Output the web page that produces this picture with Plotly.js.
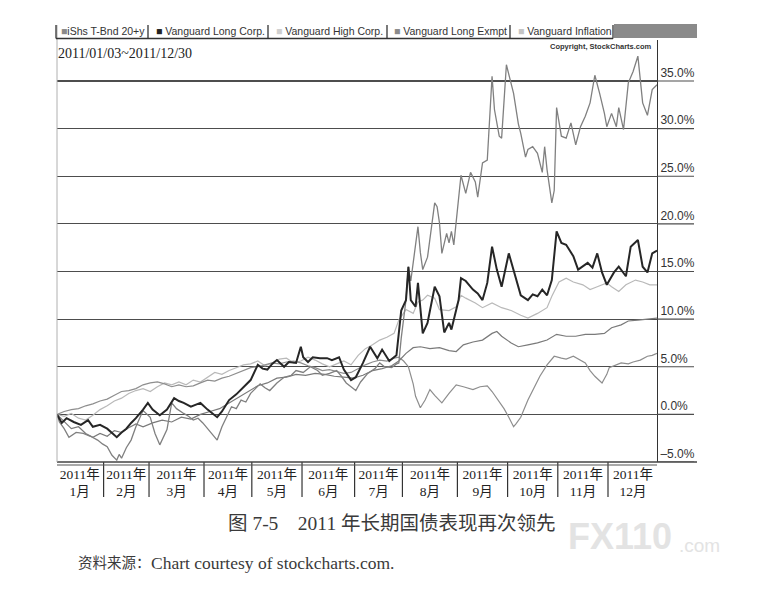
<!DOCTYPE html>
<html><head><meta charset="utf-8">
<script src="https://cdn.plot.ly/plotly-3.0.1.min.js"></script>
<style>html,body{margin:0;padding:0;background:#fff;}#chart{width:762px;height:592px;}</style>
</head><body><div id="chart"></div>
<script>
// ---------- data (trading-day index in 2011, cumulative % change) ----------
const monthLabels = ['1月','2月','3月','4月','5月','6月','7月','8月','9月','10月','11月','12月'];
const monthStarts = [0,20,39,62,82,103,125,145,168,189,210,231];
const totalDays = 252;
const yTicks = [-5,0,5,10,15,20,25,30,35];
const yTickLabels = ['–5.0%','0.0%','5.0%','10.0%','15.0%','20.0%','25.0%','30.0%','35.0%'];
const seriesNames = ['iShs T-Bnd 20+y','Vanguard Long Corp.','Vanguard High Corp.','Vanguard Long Exmpt','Vanguard Inflation'];
const dateRange = '2011/01/03~2011/12/30';

const tltDays = [0,1,3,5,8,11,14,17,19,21,23,25,26,27,29,31,33,36,39,41,43,46,48,50,53,55,57,59,61,63,65,67,69,71,73,75,77,79,81,83,85,87,89,92,95,98,100,103,106,109,111,114,117,119,121,123,125,127,130,133,135,137,140,142,143,144,146,147,148,149,151,152,153,155,156,158,159,160,161,163,164,165,166,167,169,171,173,175,176,178,180,182,183,185,186,188,191,193,194,196,197,199,201,203,204,205,207,208,209,211,213,215,217,219,221,223,225,227,229,230,232,234,235,237,239,241,243,245,247,249,251];
const tltValues = [0,-0.8,-1.5,-2.4,-1.9,-2.0,-2.3,-2.7,-3.1,-3.4,-4.3,-4.8,-4.2,-4.6,-3.5,-2.7,-1.3,0.4,-0.3,-2.0,-3.2,-1.6,1.2,0.6,0.1,-0.2,-0.6,-0.4,-0.9,-1.5,-2.0,-2.7,-1.3,-0.2,0.8,0.6,1.5,1.3,2.2,2.7,3.2,2.8,2.5,3.3,3.9,4.1,4.6,4.4,5.0,4.6,4.1,4.3,4.6,4.0,3.3,2.9,2.5,3.4,4.3,4.8,5.4,5.0,4.9,5.3,5.4,8.0,12.0,15.5,14.0,15.9,19.7,17.0,15.2,16.5,18.6,22.2,21.8,20.1,16.9,19.0,18.0,19.2,17.8,20.1,25.1,23.2,25.4,24.4,22.8,26.4,26.7,35.5,32.0,29.2,29.0,36.7,33.7,30.5,29.5,27.0,27.8,28.1,27.4,25.4,28.1,25.7,22.2,23.5,32.2,29.2,29.0,30.6,28.3,30.2,31.3,32.7,35.6,33.7,31.6,30.2,31.6,30.2,32.2,29.9,34.8,36.0,37.6,32.7,31.4,34.1,34.6];

const longCorpDays = [0,2,4,7,10,13,15,18,21,23,25,27,29,31,33,36,38,40,43,46,49,51,53,56,58,60,63,65,67,69,72,75,78,81,84,86,88,90,92,95,97,100,102,103,105,107,110,113,115,118,120,123,125,128,131,134,136,139,142,144,146,147,148,150,151,153,155,158,160,162,164,165,168,169,171,174,176,178,180,182,184,186,189,192,194,197,199,201,203,205,207,209,211,213,216,218,220,222,224,226,228,230,233,235,238,240,243,245,247,249,251];
const longCorpValues = [0,-0.9,-0.4,-0.8,-1.1,-0.6,-1.3,-1.1,-1.5,-2.0,-2.4,-1.9,-1.5,-0.9,-0.4,0.5,1.2,0.5,-0.1,0.5,1.7,1.4,1.2,0.8,1.0,1.2,0.5,0.1,-0.3,0.3,1.5,2.1,2.9,3.6,5.2,4.8,4.7,5.3,5.7,5.0,5.5,5.4,7.1,6.0,5.5,6.0,5.9,5.9,5.7,6.0,4.7,3.6,3.9,5.4,7.1,5.9,6.8,5.6,6.2,10.9,12.0,15.5,12.0,11.3,13.8,8.5,9.6,13.4,12.4,8.6,9.6,8.9,12.0,14.3,14.0,13.1,12.7,12.0,13.8,17.6,15.2,13.4,16.9,14.1,12.5,12.0,12.6,12.4,13.1,12.5,14.1,19.2,18.0,17.8,16.6,15.2,15.6,15.9,15.4,16.9,14.9,13.6,14.9,15.5,14.5,17.6,18.3,15.5,14.9,16.9,17.2];

const highCorpDays = [0,3,6,9,12,15,18,21,24,27,30,33,36,39,42,45,48,51,54,57,60,63,66,69,72,75,78,81,84,87,90,93,96,99,102,105,108,111,114,117,120,123,126,129,132,135,138,141,143,145,147,149,150,152,154,156,158,161,164,167,170,174,177,180,182,184,187,189,191,192,194,197,200,202,205,208,211,213,216,219,221,223,225,228,230,231,234,236,239,241,244,247,249,251];
const highCorpValues = [0,0.3,0.5,0.6,0.9,1.1,1.4,1.6,2.0,2.4,2.5,2.7,3.1,3.3,3.4,3.2,2.9,3.1,2.9,3.0,3.3,3.6,3.5,3.8,4.0,4.3,4.6,4.9,5.0,5.2,5.4,5.3,5.5,5.6,5.4,5.1,4.9,4.6,4.7,4.5,4.3,4.4,4.8,5.2,5.5,5.7,5.6,5.9,6.0,5.6,5.0,3.2,1.9,0.7,1.5,2.6,2.0,1.2,2.2,3.1,2.9,2.6,2.9,3.0,2.4,1.7,0.6,-0.3,-1.3,-1.0,-0.3,1.5,3.0,4.0,5.2,6.1,5.9,5.8,6.1,5.7,5.4,4.6,4.0,3.3,4.2,4.9,5.2,5.4,5.3,5.5,5.7,6.1,6.2,6.4];

const longExmptDays = [0,3,6,9,12,15,18,21,24,27,30,33,36,40,44,48,52,56,60,64,68,72,76,80,84,88,92,96,100,104,108,112,116,120,124,128,132,136,140,143,146,149,152,156,160,164,167,170,174,178,182,184,186,190,193,197,201,205,209,213,217,221,225,229,232,236,239,243,247,251];
const longExmptValues = [0,-0.8,-1.5,-1.3,-2.0,-2.4,-2.0,-2.3,-1.7,-1.9,-1.4,-1.0,-1.3,-0.9,-0.6,-0.8,-0.3,-0.5,0.0,0.3,0.6,1.2,1.8,2.4,3.0,3.3,3.8,3.9,4.2,4.1,4.3,4.2,4.0,3.9,3.8,4.1,4.6,4.8,5.1,5.6,6.4,7.0,7.1,6.9,7.0,6.7,6.6,7.3,7.6,7.8,8.5,8.7,8.2,7.5,7.1,7.3,7.5,7.8,8.4,8.2,8.2,8.4,8.4,8.5,9.1,9.4,9.8,9.9,10.0,10.1];

const inflationDays = [0,3,6,9,12,15,18,21,24,27,30,33,36,39,42,45,48,51,54,57,60,63,66,69,72,75,78,81,84,87,90,93,96,99,102,105,108,111,114,117,120,123,126,129,132,135,138,141,143,146,149,151,153,155,158,160,164,167,169,171,175,178,182,186,190,194,197,201,205,207,210,213,216,220,223,226,230,232,235,238,242,245,248,251];
const inflationValues = [0,-0.2,0.1,-0.4,-0.6,-0.1,0.5,0.9,1.4,1.7,2.2,2.5,2.7,2.4,2.9,3.3,3.1,3.4,3.1,3.6,3.4,3.9,4.4,4.2,4.6,4.9,5.2,5.3,5.6,5.1,5.4,5.8,5.9,5.4,5.6,6.0,5.7,5.3,5.0,5.3,5.6,5.2,6.2,6.9,7.3,7.8,8.1,8.5,9.9,11.0,10.6,11.8,12.0,12.5,12.2,11.0,10.9,11.3,12.5,12.2,11.7,11.2,11.7,11.2,10.9,10.4,10.1,10.6,11.2,12.4,13.9,14.3,13.9,13.6,13.1,13.4,13.8,13.4,12.9,13.6,14.1,13.9,13.6,13.6];

// ---------- geometry helpers (pixel -> paper) ----------
const L = 57, R = 657, T = 40, B = 462;
const px = x => (x - L) / (R - L);
const py = y => (B - y) / (B - T);

const serif = 'Liberation Serif, Noto Sans CJK SC, serif';
const sans = 'Liberation Sans, Arial, sans-serif';

function line(d, v, name, color, width) {
  return {x: d, y: v, name: name, type: 'scatter', mode: 'lines',
          line: {color: color, width: width, shape: 'linear'}, hoverinfo: 'skip'};
}

const traces = [
  line(inflationDays, inflationValues, seriesNames[4], '#b9b9b9', 1.2),
  line(highCorpDays, highCorpValues, seriesNames[2], '#8e8e8e', 1.2),
  line(longExmptDays, longExmptValues, seriesNames[3], '#7a7a7a', 1.2),
  line(tltDays, tltValues, seriesNames[0], '#808080', 1.3),
  line(longCorpDays, longCorpValues, seriesNames[1], '#262626', 2.0)
];

// month tick positions / labels
const monthEnds = monthStarts.slice(1).concat([totalDays]);
const tickPos = monthStarts.map((s, i) => (s + monthEnds[i]) / 2 - 0.5);
const tickText = monthLabels.map(m => '2011年<br>' + m);

const shapes = [];
// month box separators
monthStarts.concat([totalDays]).forEach((s, i) => {
  shapes.push({type: 'line', xref: 'x', yref: 'paper', x0: s - 0.5, x1: s - 0.5,
               y0: py(497), y1: py(462), line: {color: '#333', width: i === 0 ? 1.8 : 1.2}});
});
// double line on top of month boxes
shapes.push({type: 'line', xref: 'paper', yref: 'paper', x0: 0, x1: px(697), y0: py(462), y1: py(462), line: {color: '#444', width: 1.3}});
shapes.push({type: 'line', xref: 'paper', yref: 'paper', x0: 0, x1: 1, y0: py(465), y1: py(465), line: {color: '#555', width: 1.1}});
// gridline extensions under the right labels
yTicks.forEach(t => {
  shapes.push({type: 'line', xref: 'paper', yref: 'y', x0: 1, x1: px(694), y0: t, y1: t, line: {color: '#4d4d4d', width: 1.1}});
});
// left border
shapes.push({type: 'line', xref: 'paper', yref: 'paper', x0: 0, x1: 0, y0: py(462), y1: py(25), line: {color: '#b0b0b0', width: 1}});
// legend strip
const sepX = [56, 148, 268, 387, 510, 613];
shapes.push({type: 'line', xref: 'paper', yref: 'paper', x0: px(56), x1: px(613), y0: py(38.5), y1: py(38.5), line: {color: '#333', width: 1.3}});
sepX.forEach(x => shapes.push({type: 'line', xref: 'paper', yref: 'paper', x0: px(x), x1: px(x), y0: py(38.5), y1: py(25), line: {color: '#333', width: 1.3}}));
shapes.push({type: 'rect', xref: 'paper', yref: 'paper', x0: px(614), x1: px(697), y0: py(38), y1: py(24), fillcolor: '#8a8a8a', line: {width: 0}});

const legendColors = ['#8a8a8a', '#222', '#cfcfcf', '#8a8a8a', '#c4c4c4'];
const legendX = [59, 154, 274, 392, 516];
const annotations = seriesNames.map((n, i) => ({
  xref: 'paper', yref: 'paper', x: px(legendX[i]), y: py(31.5), xanchor: 'left', yanchor: 'middle',
  text: '<span style="color:' + legendColors[i] + '">■</span>' + (i === 0 ? '' : ' ') + n,
  showarrow: false, font: {family: sans, size: 10.5, color: '#333'}
}));
annotations.push({xref: 'paper', yref: 'paper', x: px(56), y: py(53), xanchor: 'left', yanchor: 'middle',
  text: dateRange, showarrow: false, font: {family: serif, size: 14, color: '#222'}});
annotations.push({xref: 'paper', yref: 'paper', x: px(654), y: py(46), xanchor: 'right', yanchor: 'middle',
  text: '<b>Copyright, StockCharts.com</b>', showarrow: false, font: {family: sans, size: 7.5, color: '#333'}});
annotations.push({xref: 'paper', yref: 'paper', x: px(392), y: py(523), xanchor: 'center', yanchor: 'middle',
  text: '图 7-5　2011 年长期国债表现再次领先', showarrow: false, font: {family: serif, size: 19.5, color: '#3a3a3a'}});
annotations.push({xref: 'paper', yref: 'paper', x: px(76), y: py(563), xanchor: 'left', yanchor: 'middle',
  text: '资料来源：', showarrow: false, font: {family: serif, size: 14.5, color: '#3a3a3a'}});
annotations.push({xref: 'paper', yref: 'paper', x: px(149), y: py(563), xanchor: 'left', yanchor: 'middle',
  text: 'Chart courtesy of stockcharts.com.', showarrow: false, font: {family: serif, size: 17.5, color: '#3a3a3a'}});
annotations.push({xref: 'paper', yref: 'paper', x: px(674), y: py(536), xanchor: 'right', yanchor: 'middle',
  text: '<b>FX110</b>', showarrow: false, font: {family: sans, size: 36, color: '#e3e3e3'}});
annotations.push({xref: 'paper', yref: 'paper', x: px(677), y: py(545), xanchor: 'left', yanchor: 'middle',
  text: '.com', showarrow: false, font: {family: sans, size: 19, color: '#e3e3e3'}});

const layout = {
  width: 762, height: 592,
  margin: {l: L, r: 762 - R, t: T, b: 592 - B, pad: 0},
  paper_bgcolor: '#fff', plot_bgcolor: '#fff',
  showlegend: false, hovermode: false,
  xaxis: {range: [0, totalDays - 1], tickmode: 'array', tickvals: tickPos, ticktext: tickText, ticks: '',
          showgrid: false, zeroline: false, showline: false, fixedrange: true,
          tickfont: {family: serif, size: 13.5, color: '#222'}, ticklabelstandoff: 2},
  yaxis: {range: [-5, 39.3], side: 'right', tickmode: 'array', tickvals: yTicks, ticktext: yTickLabels,
          showgrid: true, gridcolor: '#4d4d4d', gridwidth: 1.1, zeroline: false,
          showline: true, linecolor: '#333', linewidth: 1, ticks: '',
          ticklabelposition: 'outside top', fixedrange: true,
          tickfont: {family: sans, size: 12, color: '#333'}},
  shapes: shapes, annotations: annotations
};

Plotly.newPlot('chart', traces, layout, {displayModeBar: false, staticPlot: true});
</script></body></html>
